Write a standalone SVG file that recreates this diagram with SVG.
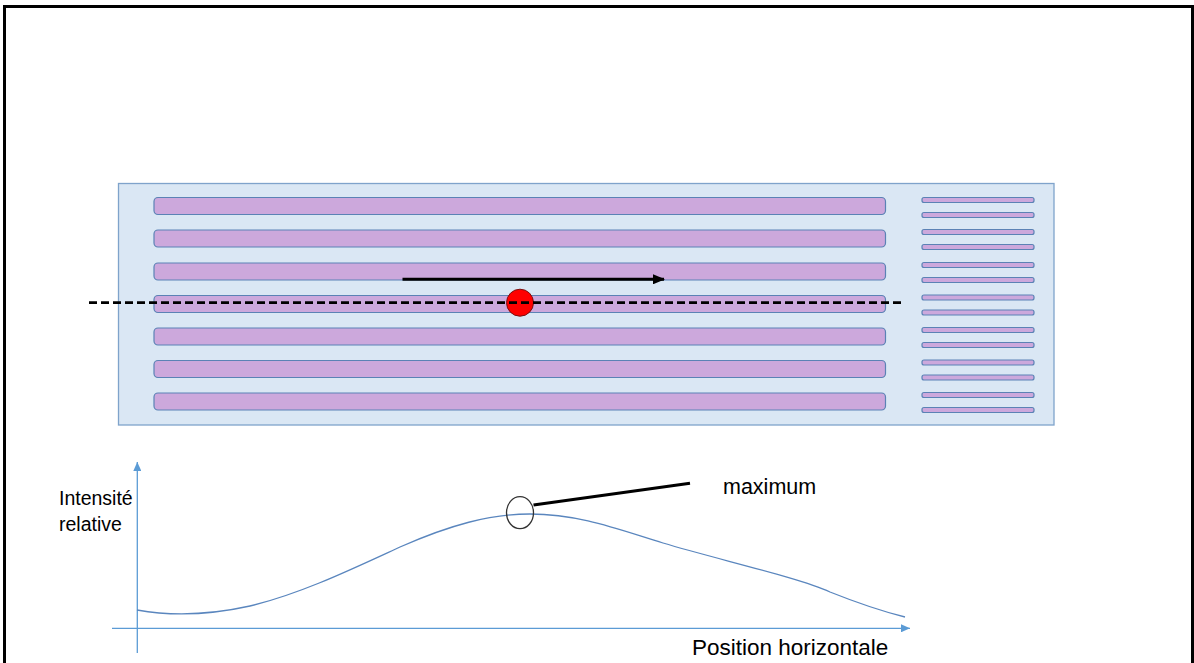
<svg xmlns="http://www.w3.org/2000/svg" width="1194" height="663" viewBox="0 0 1194 663">
<defs>
<style>
.bar{fill:#CCA8DC;stroke:#5B82B5;stroke-width:1.2}
.sbar{fill:#CCA8DC;stroke:#5B82B5;stroke-width:1.2}
.axis{stroke:#5B9BD5;stroke-width:1.3;fill:none}
.lbl{font-family:"Liberation Sans",Arial,sans-serif;font-size:21.5px;fill:#000}
.side{font-size:19.5px}
</style>
<marker id="ah" markerWidth="12" markerHeight="10" refX="11" refY="5" orient="auto" markerUnits="userSpaceOnUse">
<path d="M0,0 L12,5 L0,10 Z" fill="#000"/>
</marker>
<marker id="axh" markerWidth="9" markerHeight="8" refX="9" refY="4" orient="auto" markerUnits="userSpaceOnUse">
<path d="M0,0 L9,4 L0,8 Z" fill="#5B9BD5"/>
</marker>
</defs>
<rect x="0" y="0" width="1194" height="663" fill="#fff"/>
<rect id="frame" x="4.5" y="6.5" width="1188" height="720" fill="none" stroke="#000" stroke-width="3"/>
<g id="panel">
<rect x="118.5" y="183.5" width="935.5" height="241.5" fill="#DAE7F4" stroke="#7FA3CB" stroke-width="1.3"/>
<rect class="bar" x="154" y="197.5" width="731.5" height="17" rx="4"/>
<rect class="bar" x="154" y="230" width="731.5" height="17" rx="4"/>
<rect class="bar" x="154" y="263" width="731.5" height="17" rx="4"/>
<rect class="bar" x="154" y="295.5" width="731.5" height="17" rx="4"/>
<rect class="bar" x="154" y="328" width="731.5" height="17" rx="4"/>
<rect class="bar" x="154" y="360.5" width="731.5" height="17" rx="4"/>
<rect class="bar" x="154" y="393" width="731.5" height="17" rx="4"/>
<rect class="sbar" x="922" y="197.5" width="112" height="5" rx="2"/>
<rect class="sbar" x="922" y="212.5" width="112" height="5" rx="2"/>
<rect class="sbar" x="922" y="229.5" width="112" height="5" rx="2"/>
<rect class="sbar" x="922" y="244.5" width="112" height="5" rx="2"/>
<rect class="sbar" x="922" y="262.5" width="112" height="5" rx="2"/>
<rect class="sbar" x="922" y="277.5" width="112" height="5" rx="2"/>
<rect class="sbar" x="922" y="295" width="112" height="5" rx="2"/>
<rect class="sbar" x="922" y="310" width="112" height="5" rx="2"/>
<rect class="sbar" x="922" y="327.5" width="112" height="5" rx="2"/>
<rect class="sbar" x="922" y="342.5" width="112" height="5" rx="2"/>
<rect class="sbar" x="922" y="360" width="112" height="5" rx="2"/>
<rect class="sbar" x="922" y="375" width="112" height="5" rx="2"/>
<rect class="sbar" x="922" y="392.5" width="112" height="5" rx="2"/>
<rect class="sbar" x="922" y="407.5" width="112" height="5" rx="2"/>
</g>
<g id="particle">
<circle cx="520" cy="302.7" r="13.5" fill="#FF0000" stroke="#7A1010" stroke-width="1"/>
</g>
<g id="connectors">
<line x1="89" y1="302.7" x2="904" y2="302.7" stroke="#000" stroke-width="2.8" stroke-dasharray="8,4"/>
<line x1="402.5" y1="279.3" x2="664" y2="279.3" stroke="#000" stroke-width="3" marker-end="url(#ah)"/>
<line class="axis" x1="137.3" y1="653" x2="137.3" y2="462" marker-end="url(#axh)"/>
<line class="axis" x1="112" y1="628.3" x2="910" y2="628.3" marker-end="url(#axh)"/>
<path d="M137,610 C165,615 205,616 250,606 C300,594 350,570 400,547 C450,525 490,514 530,514 C580,514 620,530 663,543 C720,560 800,578 830,592 C860,604 885,612 905,617" fill="none" stroke="#5A86BE" stroke-width="1.3"/>
<line x1="533.5" y1="505" x2="690" y2="483.3" stroke="#000" stroke-width="3"/>
</g>
<g id="maximum-marker">
<ellipse cx="520" cy="512.7" rx="13.5" ry="16" fill="none" stroke="#333" stroke-width="1.3"/>
</g>
<g id="labels">
<text class="lbl side" x="59" y="505">Intensité</text>
<text class="lbl side" x="59" y="531">relative</text>
<text class="lbl" x="723" y="494">maximum</text>
<text class="lbl" x="692" y="655" style="font-size:22.5px">Position horizontale</text>
</g>
</svg>
